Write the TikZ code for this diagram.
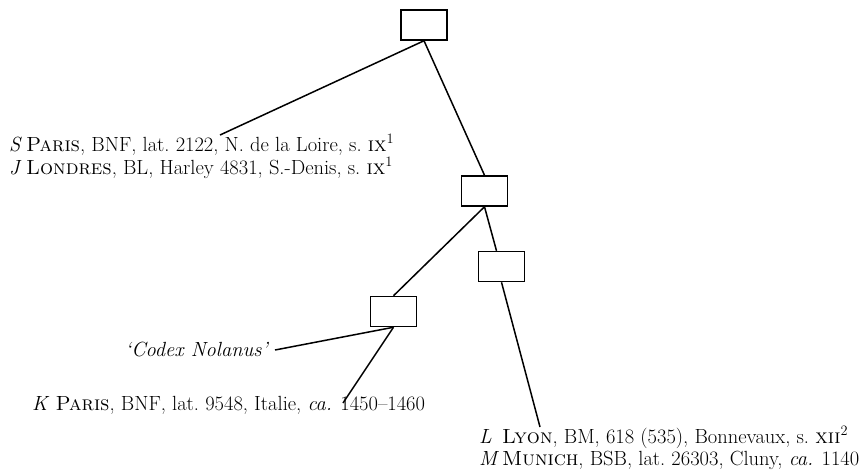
\documentclass[tikz,border=0pt]{standalone}
\begin{document}
\begin{tikzpicture}[x=1pt,y=-1pt,
  box/.style={draw, line width=1.5pt, minimum width=46pt, minimum height=30pt, inner sep=0pt},
  link/.style={line width=1.5pt},
  txt/.style={inner sep=0pt, font=\fontsize{20.5}{23}\selectfont, anchor=base west}]
\useasboundingbox (0,0) rectangle (865,469);
% boxes
\node[box] (A) at (424,25) {};
\node[box] (B) at (484.5,191) {};
\node[box] (C) at (501.5,266.5) {};
\node[box] (D) at (393.5,311.5) {};
% texts
\node[txt] (S) at (9,151) {\makebox[17pt][l]{\textit{S}}\textsc{Paris}, BNF, lat.~2122, N. de la Loire, s.~\textsc{ix}\textsuperscript{1}};
\node[txt] (J) at (9,174) {\makebox[17pt][l]{\textit{J}}\textsc{Londres}, BL, Harley 4831, S.-Denis, s.~\textsc{ix}\textsuperscript{1}};
\node[txt] (N) at (125,356) {\textit{`Codex Nolanus'}};
\node[txt] (K) at (32,410) {\textit{K} \textsc{Paris}, BNF, lat.~9548, Italie, \textit{ca.} 1450--1460};
\node[txt] (L) at (479,443) {\makebox[23pt][l]{\textit{L}}\textsc{Lyon}, BM, 618 (535), Bonnevaux, s.~\textsc{xii}\textsuperscript{2}};
\node[txt] (M) at (479,465) {\makebox[23pt][l]{\textit{M}}\textsc{Munich}, BSB, lat.~26303, Cluny, \textit{ca.} 1140};
% connector ends
\coordinate (sEnd) at (220,135);
\coordinate (nEnd) at (275,350);
\coordinate (kEnd) at (343,403);
\coordinate (lEnd) at (540,427);
% connectors
\draw[link] (A.south) -- (sEnd);
\draw[link] (A.south) -- (B.north);
\draw[link] (B.south) -- (D.north);
\draw[link] (B.south) -- ([xshift=-5pt]C.north);
\draw[link] (C.south) -- (lEnd);
\draw[link] (D.south) -- (nEnd);
\draw[link] (D.south) -- (kEnd);
\end{tikzpicture}
\end{document}
